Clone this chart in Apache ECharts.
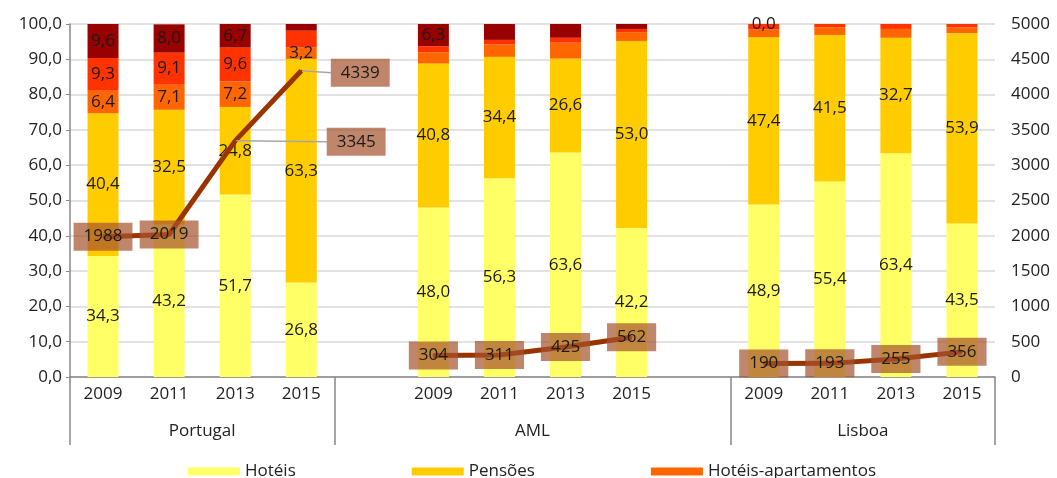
<!DOCTYPE html>
<html>
<head>
<meta charset="utf-8">
<script src="https://cdn.jsdelivr.net/npm/echarts@6/dist/echarts.min.js"></script>
<style>
html, body { margin: 0; padding: 0; background: #fff; }
#charts { width: 1057px; height: 478px; }
</style>
</head>
<body>
<div id="charts"></div>
<script>
// categorias (espaços vazios separam os grupos)
var categories = ['2009', '2011', '2013', '2015', '', '2009', '2011', '2013', '2015', '', '2009', '2011', '2013', '2015'];
var groups = ['Portugal', 'AML', 'Lisboa'];
var groupCenters = [2, 7, 12];
var groupBounds = [0, 4, 10, 14];

// % por tipo de estabelecimento
var hoteis   = [34.3, 43.2, 51.7, 26.8, null, 48.0, 56.3, 63.6, 42.2, null, 48.9, 55.4, 63.4, 43.5];
var pensoes  = [40.4, 32.5, 24.8, 63.3, null, 40.8, 34.4, 26.6, 53.0, null, 47.4, 41.5, 32.7, 53.9];
var hotApart = [6.4, 7.1, 7.2, 3.2, null, 3.2, 3.5, 4.5, 2.5, null, 2.1, 2.2, 2.5, 1.6];
var outros   = [9.3, 9.1, 9.6, 4.8, null, 1.7, 1.3, 1.4, 0.9, null, 1.6, 0.9, 1.4, 1.0];
var aldeam   = [9.6, 8.0, 6.7, 1.9, null, 6.3, 4.5, 3.9, 1.4, null, 0.0, 0.0, 0.0, 0.0];

// total (eixo direito)
var totais = [1988, 2019, 3345, 4339, null, 304, 311, 425, 562, null, 190, 193, 255, 356];

// quais os valores com etiqueta
var lblHoteis   = [0, 1, 2, 3, 5, 6, 7, 8, 10, 11, 12, 13];
var lblPensoes  = [0, 1, 2, 3, 5, 6, 7, 8, 10, 11, 12, 13];
var lblHotApart = [0, 1, 2, 3];
var lblOutros   = [0, 1, 2];
var lblAldeam   = [0, 1, 2, 5, 10];

var FONT = 'Open Sans';

function fmt(v) {
	return v.toFixed(1).replace('.', ',');
}

function barSeries(name, values, shown, color) {
	var items = [];
	for (var i = 0; i < values.length; i++) {
		items.push({
			value: values[i],
			label: { show: shown.indexOf(i) >= 0 }
		});
	}
	return {
		name: name,
		type: 'bar',
		stack: 'total',
		barWidth: 31,
		itemStyle: { color: color },
		label: {
			position: 'inside',
			fontFamily: FONT,
			fontSize: 17,
			color: '#1a1a1a',
			formatter: function (p) { return fmt(p.value); }
		},
		data: items
	};
}

var charts = echarts.init(document.getElementById('charts'));

var lineItems = [];
for (var i = 0; i < totais.length; i++) {
	var it = { value: totais[i] };
	//etiquetas deslocadas com linha de chamada
	if (i == 2 || i == 3) it.labelLine = { show: true };
	lineItems.push(it);
}

var option = {
	animation: false,
	textStyle: { fontFamily: FONT },
	grid: { left: 70, right: 62, top: 24, bottom: 101 },
	legend: {
		data: ['Hotéis', 'Pensões', 'Hotéis-apartamentos'],
		left: 183,
		top: 458,
		icon: 'rect',
		itemWidth: 52,
		itemHeight: 8,
		itemGap: 116,
		textStyle: { fontFamily: FONT, fontSize: 17, color: '#222' }
	},
	xAxis: [
		{
			type: 'category',
			data: categories,
			axisTick: { show: false },
			axisLine: { lineStyle: { color: '#888', width: 1.5 } },
			axisLabel: { interval: 0, margin: 9, fontSize: 17, color: '#222', fontFamily: FONT }
		},
		{
			type: 'value',
			position: 'bottom',
			min: 0,
			max: 14,
			axisLine: { show: false },
			splitLine: { show: false },
			axisTick: {
				show: true,
				customValues: groupBounds,
				length: 68,
				lineStyle: { color: '#888', width: 1.5 }
			},
			axisLabel: {
				customValues: groupCenters,
				margin: 46,
				fontSize: 17,
				color: '#222',
				fontFamily: FONT,
				formatter: function (v) { return groups[groupCenters.indexOf(v)]; }
			}
		}
	],
	yAxis: [
		{
			type: 'value',
			min: 0,
			max: 100,
			interval: 10,
			axisLine: { show: true, lineStyle: { color: '#888', width: 1.5 } },
			axisTick: { show: true, length: 4, lineStyle: { color: '#888' } },
			splitLine: { lineStyle: { color: '#d9d9d9', width: 1.5 } },
			axisLabel: { margin: 8, fontSize: 17, color: '#222', fontFamily: FONT, formatter: fmt }
		},
		{
			type: 'value',
			min: 0,
			max: 5000,
			interval: 500,
			position: 'right',
			axisLine: { show: false },
			axisTick: { show: false },
			splitLine: { show: false },
			axisLabel: {
				margin: 16, fontSize: 17, color: '#222', fontFamily: FONT,
				formatter: function (v) { return String(v); }
			}
		}
	],
	series: [
		barSeries('Hotéis', hoteis, lblHoteis, '#FFFF66'),
		barSeries('Pensões', pensoes, lblPensoes, '#FFCC00'),
		barSeries('Hotéis-apartamentos', hotApart, lblHotApart, '#FF6600'),
		barSeries('Outros', outros, lblOutros, '#FF3300'),
		barSeries('Aldeamentos turísticos', aldeam, lblAldeam, '#990000'),
		{
			name: 'Total',
			type: 'line',
			yAxisIndex: 1,
			symbol: 'circle',
			symbolSize: 2,
			itemStyle: { color: '#993300' },
			lineStyle: { color: '#993300', width: 5 },
			z: 5,
			label: {
				show: true,
				position: 'inside',
				fontFamily: FONT,
				fontSize: 17,
				color: '#1a1a1a',
				backgroundColor: 'rgba(165,82,45,0.7)',
				padding: [6, 10, 5, 10]
			},
			labelLine: { show: false, lineStyle: { color: '#a6a6a6', width: 1.5 } },
			labelLayout: function (params) {
				if (params.dataIndex == 2) return { dx: 121, dy: 1 };
				if (params.dataIndex == 3) return { dx: 59, dy: 2 };
				return {};
			},
			data: lineItems
		}
	]
};

charts.setOption(option);
</script>
</body>
</html>
